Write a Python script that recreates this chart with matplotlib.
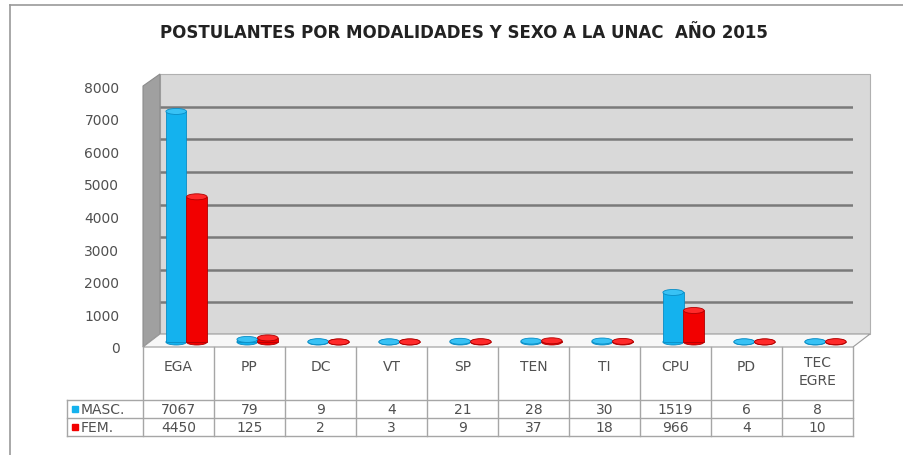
import matplotlib.pyplot as plt
from matplotlib.patches import Polygon, Rectangle, Ellipse
from matplotlib.transforms import ScaledTranslation, blended_transform_factory

categorias = ['EGA', 'PP', 'DC', 'VT', 'SP', 'TEN', 'TI', 'CPU', 'PD', 'TEC\nEGRE']
masc = [7067, 79, 9, 4, 21, 28, 30, 1519, 6, 8]
fem = [4450, 125, 2, 3, 9, 37, 18, 966, 4, 10]
yticks = [0, 1000, 2000, 3000, 4000, 5000, 6000, 7000, 8000]
titulo = 'POSTULANTES POR MODALIDADES Y SEXO A LA UNAC  AÑO 2015'

azul = '#14b2ee'
rojo = '#f20000'
gris_txt = '#505050'
plt.rcParams['font.family'] = ['DejaVu Sans']

fig = plt.figure(figsize=(9.04, 4.56), dpi=100)

# capa de fondo en pixeles
bg = fig.add_axes([0, 0, 1, 1])
bg.set_xlim(0, 904)
bg.set_ylim(456, 0)
bg.axis('off')

# marco exterior
bg.plot([10, 10], [6, 456], color='#9a9a9a', lw=1.2)
bg.plot([10, 904], [6, 6], color='#9a9a9a', lw=1.2)

# paredes 3D
bg.add_patch(Rectangle((160, 75), 710, 260, facecolor='#d9d9d9', edgecolor='#b0b0b0', lw=0.8, zorder=1))
bg.add_patch(Polygon([(143, 348), (143, 87), (160, 75), (160, 335)], closed=True,
                     facecolor='#a0a0a0', edgecolor='#8c8c8c', lw=0.8, zorder=1))
bg.add_patch(Polygon([(143, 348), (160, 335), (870, 335), (853, 348)], closed=True,
                     facecolor='#f7f7f7', edgecolor='#9a9a9a', lw=0.8, zorder=1))

# lineas de la tabla
cl = '#a6a6a6'
for i in range(11):
    x = 143 + 71 * i
    bg.plot([x, x], [348, 437], color=cl, lw=1)
for y in [401, 419, 437]:
    bg.plot([67, 853], [y, y], color=cl, lw=1)
bg.plot([67, 67], [401, 437], color=cl, lw=1)

# ejes principales (plano frontal)
ax = fig.add_axes([143 / 904, (456 - 348) / 456, 710 / 904, 261 / 456])
ax.set_zorder(2)
ax.patch.set_visible(False)
ax.set_xlim(0, 10)
ax.set_ylim(0, 8000)
for s in ax.spines.values():
    s.set_visible(False)
ax.set_xticks([])
ax.set_yticks(yticks)
ax.tick_params(axis='y', length=0, pad=17, labelsize=10, labelcolor=gris_txt)

atras = ax.transData + ScaledTranslation(17 / 100, 12 / 100, fig.dpi_scale_trans)
medio = ax.transData + ScaledTranslation(8 / 100, 5 / 100, fig.dpi_scale_trans)

ax.hlines(yticks[1:], 0, 10, colors='#7a7a7a', lw=1.8, transform=atras, zorder=1)

pos = list(range(len(categorias)))
w = 0.29
eh = 6 * 8000 / 261
for serie, color, borde, tapa, dx in [(masc, azul, '#0a8cc4', '#38c2f5', -w / 2),
                                      (fem, rojo, '#b00000', '#ff2a2a', w / 2)]:
    xs = [p + 0.5 + dx for p in pos]
    ax.bar(xs, serie, width=w, color=color, edgecolor=borde, lw=0.6,
           transform=medio, zorder=3)
    for x, v in zip(xs, serie):
        ax.add_patch(Ellipse((x, 0), w, eh, facecolor=color, edgecolor=borde, lw=0.6,
                             transform=medio, zorder=2))
        ax.add_patch(Ellipse((x, v), w, eh, facecolor=tapa, edgecolor=borde, lw=0.6,
                             transform=medio, zorder=4))

# titulo
fig.text(464 / 904, 1 - 33 / 456, titulo, ha='center', va='center',
         fontsize=12, fontweight='bold', color='#222222')

# texto de la tabla
tr = blended_transform_factory(ax.transData, bg.transData)
for p, c in zip(pos, categorias):
    yy = 372 if '\n' in c else 367
    ax.text(p + 0.5, yy, c, transform=tr, ha='center', va='center', fontsize=10,
            color=gris_txt, clip_on=False, linespacing=1.3)
for p, m, f in zip(pos, masc, fem):
    ax.text(p + 0.5, 410, str(m), transform=tr, ha='center', va='center', fontsize=10,
            color=gris_txt, clip_on=False)
    ax.text(p + 0.5, 428.5, str(f), transform=tr, ha='center', va='center', fontsize=10,
            color=gris_txt, clip_on=False)

for y, lab, col in [(410, 'MASC.', azul), (428.5, 'FEM.', rojo)]:
    bg.add_patch(Rectangle((72, y - 3), 6, 6, color=col))
    bg.text(81, y, lab, ha='left', va='center', fontsize=10, color=gris_txt)

fig.savefig('out.png', dpi=100)
